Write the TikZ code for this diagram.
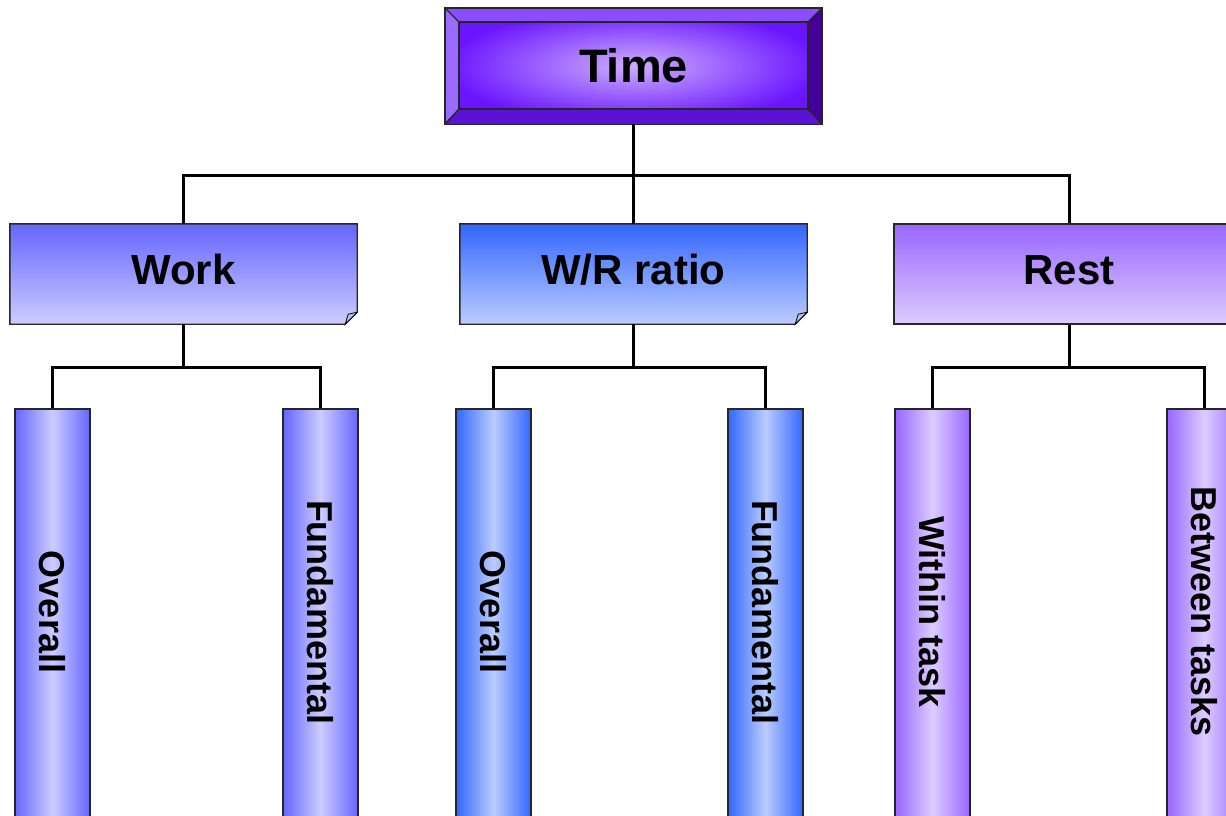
\documentclass[tikz,border=0pt]{standalone}
\usepackage{fontspec}
\setmainfont{Liberation Sans}
\usetikzlibrary{calc}
\definecolor{tOuter}{HTML}{6A14FF}
\definecolor{tInner}{HTML}{CDAEFF}
\definecolor{bvTop}{HTML}{8A4DFF}
\definecolor{bvLeft}{HTML}{9B6BFF}
\definecolor{bvRight}{HTML}{44009A}
\definecolor{bvBot}{HTML}{5A12D6}
\definecolor{wkDark}{HTML}{6666FF}
\definecolor{wkLight}{HTML}{CCCCFF}
\definecolor{wrDark}{HTML}{3366FF}
\definecolor{wrLight}{HTML}{BBCCFF}
\definecolor{rsDark}{HTML}{9966FF}
\definecolor{rsLight}{HTML}{DDCCFF}
\definecolor{foldc}{HTML}{B8BCE6}
\begin{document}
\begin{tikzpicture}[x=1pt,y=-1pt,
  conn/.style={line width=3pt},
  boxline/.style={line width=1.4pt, draw=black!85},
  catbox/.style={inner sep=0pt, minimum width=347pt, minimum height=100pt,
    text height=30pt, text depth=10pt,
    font=\fontsize{42}{48}\selectfont\bfseries},
  bar/.style={inner sep=0pt, minimum width=75pt, minimum height=421pt, boxline},
  leaflabel/.style={rotate=-90, inner sep=0pt, font=\fontsize{36}{42}\selectfont\bfseries}]
\useasboundingbox (0,0) rectangle (1226,815);
\clip (0,0) rectangle (1226,815);
\fill[white] (0,0) rectangle (1226,815);

% Top node
\node[inner sep=0pt, minimum width=377pt, minimum height=116pt, shading=radial,
  inner color=tInner, outer color=tOuter, font=\fontsize{47}{52}\selectfont\bfseries]
  (time) at (633.5,66) {Time};
\coordinate (ti1) at (459,22);
\coordinate (ti2) at (808,22);
\coordinate (ti3) at (808,109);
\coordinate (ti4) at (459,109);
\fill[bvTop] (time.north west) -- (time.north east) -- (ti2) -- (ti1) -- cycle;
\fill[bvLeft] (time.north west) -- (ti1) -- (ti4) -- (time.south west) -- cycle;
\fill[bvRight] (time.north east) -- (time.south east) -- (ti3) -- (ti2) -- cycle;
\fill[bvBot] (time.south west) -- (ti4) -- (ti3) -- (time.south east) -- cycle;
\draw[boxline] (time.north west) rectangle (time.south east);
\draw[boxline] (ti1) rectangle (ti3);
\draw[boxline] (time.north west) -- (ti1) (time.north east) -- (ti2)
  (time.south east) -- (ti3) (time.south west) -- (ti4);

% Category nodes
\node[catbox, top color=wkDark, bottom color=wkLight] (work) at (183.5,274) {Work};
\node[catbox, top color=wrDark, bottom color=wrLight] (wr) at (633.5,274) {W/R ratio};
\node[catbox, minimum width=350pt, top color=rsDark, bottom color=rsLight, boxline] (rest) at (1069,274) {Rest};

\foreach \n in {work,wr}{
  \fill[white] ([xshift=-12pt]\n.south east) -- ([yshift=12pt]\n.south east)
    -- ([xshift=1pt,yshift=13pt]\n.south east) -- ([xshift=1pt,yshift=-1pt]\n.south east)
    -- ([xshift=-13pt,yshift=-1pt]\n.south east) -- cycle;
  \draw[boxline] (\n.north west) -- (\n.north east) -- ([yshift=12pt]\n.south east)
    -- ([xshift=-12pt]\n.south east) -- (\n.south west) -- cycle;
  \draw[line width=0.8pt, fill=foldc] ([xshift=-12pt]\n.south east)
    -- ([xshift=-9pt,yshift=10pt]\n.south east) -- ([yshift=12pt]\n.south east) -- cycle;
}

% Leaf bars
\node[bar, left color=wkDark, right color=wkDark, middle color=wkLight] (b1) at (52.5,619.5) {};
\node[bar, left color=wkDark, right color=wkDark, middle color=wkLight] (b2) at (320.5,619.5) {};
\node[bar, left color=wrDark, right color=wrDark, middle color=wrLight] (b3) at (493.5,619.5) {};
\node[bar, left color=wrDark, right color=wrDark, middle color=wrLight] (b4) at (765.5,619.5) {};
\node[bar, left color=rsDark, right color=rsDark, middle color=rsLight] (b5) at (932.5,619.5) {};
\node[bar, left color=rsDark, right color=rsDark, middle color=rsLight] (b6) at (1204.5,619.5) {};

\node[leaflabel] (l1) at (52.5,612) {Overall};
\node[leaflabel] (l2) at (320.5,612) {Fundamental};
\node[leaflabel] (l3) at (493.5,612) {Overall};
\node[leaflabel] (l4) at (765.5,612) {Fundamental};
\node[leaflabel] (l5) at (932.5,612) {Within task};
\node[leaflabel] (l6) at (1204.5,612) {Between tasks};

% Connectors
\coordinate (bus0) at (633.5,175);
\draw[conn] (time.south) -- (bus0);
\draw[conn] (work.north) |- (bus0) -| (rest.north);
\draw[conn] (bus0) -- (wr.north);

\coordinate (bus1) at (183.5,367);
\coordinate (bus2) at (633.5,367);
\coordinate (bus3) at (1069,367);
\draw[conn] (work.south) -- (bus1);
\draw[conn] (b1.north) |- (bus1) -| (b2.north);
\draw[conn] (wr.south) -- (bus2);
\draw[conn] (b3.north) |- (bus2) -| (b4.north);
\draw[conn] (rest.south) -- (bus3);
\draw[conn] (b5.north) |- (bus3) -| (b6.north);
\end{tikzpicture}
\end{document}
